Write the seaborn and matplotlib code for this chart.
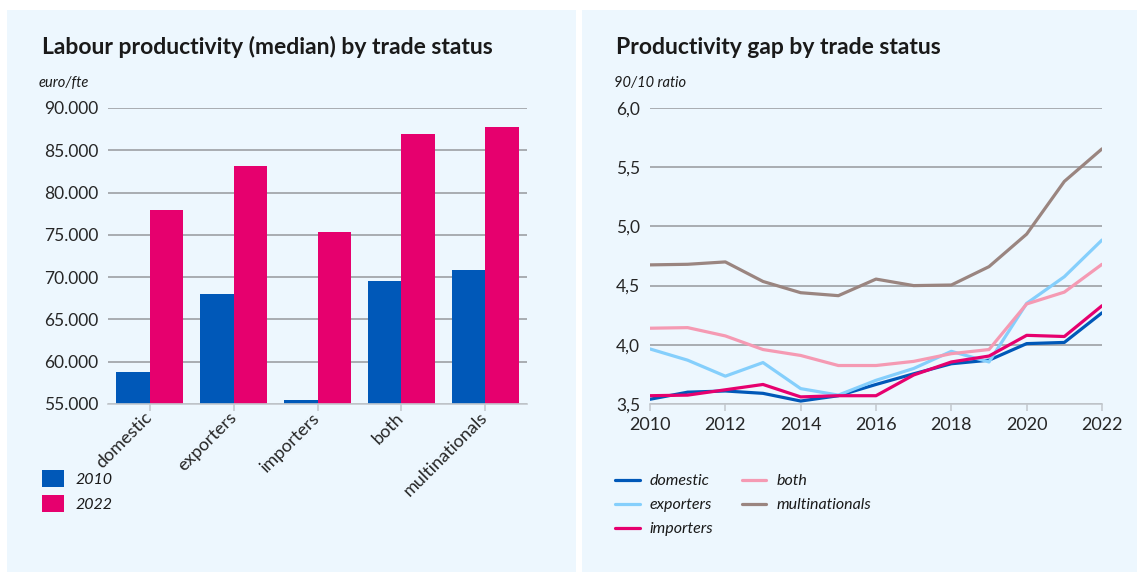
import matplotlib
matplotlib.use("Agg")
import matplotlib.pyplot as plt
from matplotlib.patches import Rectangle
from matplotlib.ticker import FuncFormatter
import numpy as np
import pandas as pd
import seaborn as sns

# ---- data -------------------------------------------------------------
categories = ["domestic", "exporters", "importers", "both", "multinationals"]
productivity_2010 = [58800, 68000, 55450, 69500, 70900]
productivity_2022 = [77950, 83100, 75350, 86900, 87750]

years = list(range(2010, 2023))
gap_domestic = [3.54, 3.60, 3.61, 3.59, 3.525, 3.57, 3.665, 3.755, 3.84, 3.87, 4.01, 4.02, 4.27]
gap_exporters = [3.965, 3.87, 3.735, 3.85, 3.63, 3.575, 3.70, 3.80, 3.945, 3.855, 4.35, 4.575, 4.885]
gap_importers = [3.57, 3.575, 3.62, 3.665, 3.56, 3.57, 3.57, 3.745, 3.855, 3.905, 4.08, 4.07, 4.33]
gap_both = [4.14, 4.145, 4.075, 3.96, 3.91, 3.825, 3.825, 3.86, 3.925, 3.96, 4.345, 4.445, 4.68]
gap_multinationals = [4.675, 4.68, 4.70, 4.535, 4.44, 4.415, 4.555, 4.50, 4.505, 4.66, 4.935, 5.38, 5.655]

# ---- style ------------------------------------------------------------
sns.set_theme(style="white")
plt.rcParams["font.family"] = ["Lato", "DejaVu Sans"]
plt.rcParams["text.color"] = "#1a1a1a"

W, H = 1137, 572
PANEL = "#edf7fe"
GRID = "#96999d"
AXISLINE = "#c3c8cd"
BLUE = "#0058b8"
MAGENTA = "#e6006e"
bar_palette = {"2010": BLUE, "2022": MAGENTA}
line_palette = {
    "domestic": BLUE,
    "exporters": "#85cffc",
    "importers": MAGENTA,
    "both": "#f59ab3",
    "multinationals": "#9a8580",
}

fig = plt.figure(figsize=(W / 100, H / 100), dpi=100)
fig.patch.set_facecolor("white")


def fx(x):
    return x / W


def fy(y):
    return 1 - y / H


def ax_rect(x0, y0, x1, y1):
    return [fx(x0), fy(y1), fx(x1) - fx(x0), fy(y0) - fy(y1)]


# panel backgrounds (behind the axes)
for x0, x1 in ((7, 576), (582, 1137)):
    fig.patches.append(Rectangle((fx(x0), fy(572)), fx(x1) - fx(x0), fy(10) - fy(572),
                                 transform=fig.transFigure, facecolor=PANEL,
                                 edgecolor="none", zorder=-10))


def style_axes(ax):
    ax.set_facecolor(PANEL)
    for side in ("top", "right", "left"):
        ax.spines[side].set_visible(False)
    ax.spines["bottom"].set_color(AXISLINE)
    ax.spines["bottom"].set_linewidth(1.2)
    ax.yaxis.grid(True, color=GRID, linewidth=1.1)
    ax.xaxis.grid(False)
    ax.set_axisbelow(True)
    ax.tick_params(axis="y", length=0, labelsize=12.5, pad=7)
    ax.tick_params(axis="x", length=5, width=1.1, color=AXISLINE, direction="out",
                   bottom=True, labelsize=13)
    ax.set_xlabel("")
    ax.set_ylabel("")


# ---- left: bar chart --------------------------------------------------
bars = pd.DataFrame({
    "category": categories * 2,
    "year": ["2010"] * len(categories) + ["2022"] * len(categories),
    "value": productivity_2010 + productivity_2022,
})

ax1 = fig.add_axes(ax_rect(108, 108, 527, 404))
sns.barplot(data=bars, x="category", y="value", hue="year", order=categories,
            hue_order=["2010", "2022"], palette=bar_palette, width=0.8,
            saturation=1, edgecolor="none", ax=ax1)
style_axes(ax1)
ax1.set_ylim(55000, 90000)
ax1.set_xlim(-0.5, len(categories) - 0.5)
ax1.set_yticks(np.arange(55000, 90001, 5000))
ax1.yaxis.set_major_formatter(FuncFormatter(lambda v, p: f"{int(v):,}".replace(",", ".")))
ax1.tick_params(axis="x", pad=3)
for lab in ax1.get_xticklabels():
    lab.set_rotation(45)
    lab.set_ha("right")
    lab.set_va("center")
    lab.set_rotation_mode("anchor")

handles, labels = ax1.get_legend_handles_labels()
ax1.legend(handles, labels, loc="upper left", bbox_to_anchor=(fx(42), fy(470)),
           bbox_transform=fig.transFigure, frameon=False, borderpad=0, borderaxespad=0,
           handlelength=1.35, handleheight=1.3, handletextpad=0.75, labelspacing=0.45,
           prop={"style": "italic", "size": 11.5})

fig.text(fx(42), fy(54), "Labour productivity (median) by trade status",
         fontsize=16.5, fontweight="bold", ha="left", va="baseline")
fig.text(fx(39), fy(87), "euro/fte", fontsize=10.5, style="italic", ha="left", va="baseline")

# ---- right: line chart ------------------------------------------------
lines = pd.DataFrame({
    "year": years * 5,
    "group": sum([[g] * len(years) for g in line_palette], []),
    "ratio": gap_domestic + gap_exporters + gap_importers + gap_both + gap_multinationals,
})

ax2 = fig.add_axes(ax_rect(650, 108, 1102, 404))
sns.lineplot(data=lines, x="year", y="ratio", hue="group", hue_order=list(line_palette),
             palette=line_palette, linewidth=2.3, ax=ax2)
style_axes(ax2)
ax2.set_ylim(3.5, 6.0)
ax2.set_xlim(2010, 2022)
ax2.set_yticks(np.arange(3.5, 6.01, 0.5))
ax2.yaxis.set_major_formatter(FuncFormatter(lambda v, p: f"{v:.1f}".replace(".", ",")))
ax2.set_xticks(range(2010, 2023, 2))
ax2.tick_params(axis="x", pad=4)

handles, labels = ax2.get_legend_handles_labels()
ax2.legend(handles, labels, loc="upper left", bbox_to_anchor=(fx(615), fy(474)),
           bbox_transform=fig.transFigure, frameon=False, borderpad=0, borderaxespad=0,
           ncol=2, handlelength=1.55, handletextpad=0.6, labelspacing=0.62,
           columnspacing=1.8, prop={"style": "italic", "size": 11.5})

fig.text(fx(616), fy(54), "Productivity gap by trade status",
         fontsize=16.5, fontweight="bold", ha="left", va="baseline")
fig.text(fx(614), fy(87), "90/10 ratio", fontsize=10.5, style="italic", ha="left", va="baseline")

fig.savefig("out.png", dpi=100, facecolor="white")
